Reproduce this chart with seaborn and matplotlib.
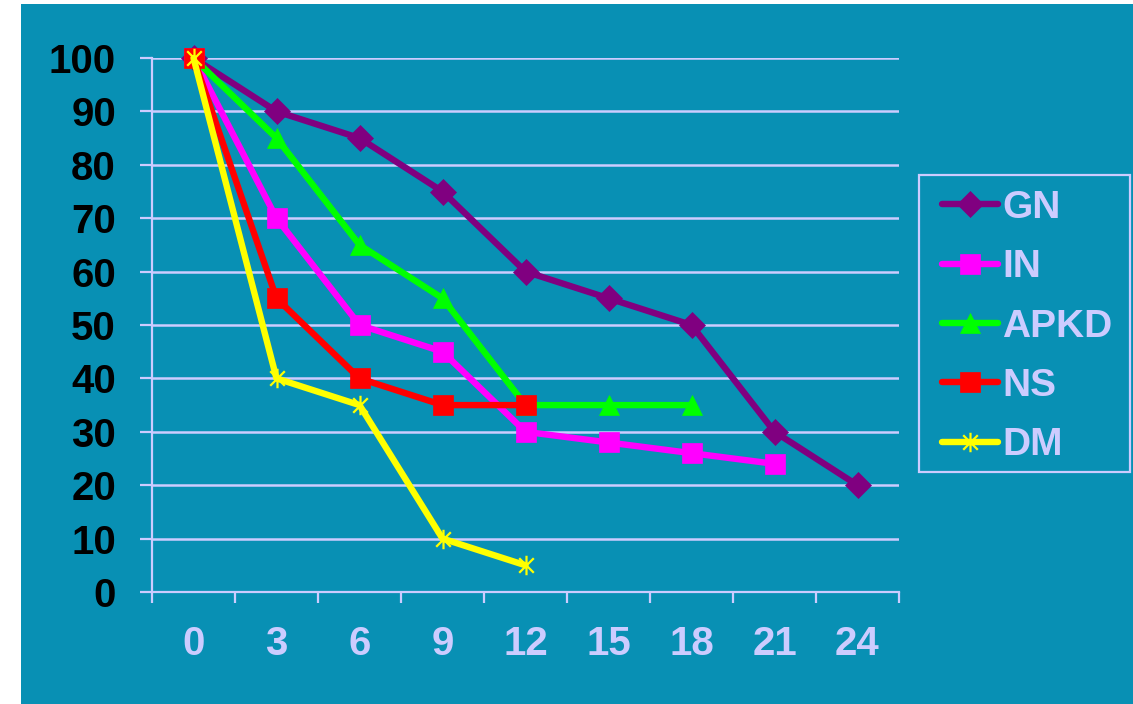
import numpy as np
import pandas as pd
import matplotlib
matplotlib.use("Agg")
import matplotlib.pyplot as plt
from matplotlib.path import Path
from matplotlib.patches import Rectangle
import seaborn as sns

# Months after start and the share (%) remaining for each group
months = ["0", "3", "6", "9", "12", "15", "18", "21", "24"]
gn = [100, 90, 85, 75, 60, 55, 50, 30, 20]
in_ = [100, 70, 50, 45, 30, 28, 26, 24]
apkd = [100, 85, 65, 55, 35, 35, 35]
ns = [100, 55, 40, 35, 35]
dm = [100, 40, 35, 10, 5]

series_names = ["GN", "IN", "APKD", "NS", "DM"]
series_values = [gn, in_, apkd, ns, dm]
colors = ["#800080", "#FF00FF", "#00FF00", "#FF0000", "#FFFF00"]

# Asterisk marker: vertical stroke plus an X
ast_verts = [(0, -1), (0, 1), (-0.75, -0.75), (0.75, 0.75), (-0.75, 0.75), (0.75, -0.75)]
ast_codes = [Path.MOVETO, Path.LINETO] * 3
asterisk = Path(ast_verts, ast_codes)

marker_styles = {
    "GN": dict(marker="D", markersize=13),
    "IN": dict(marker="s", markersize=14),
    "APKD": dict(marker="^", markersize=15),
    "NS": dict(marker="s", markersize=14),
    "DM": dict(marker=asterisk, markersize=14),
}

bg = "#0890B4"
lav = "#CCCCFF"

sns.set_theme(style="white")
plt.rcParams["font.family"] = ["Liberation Sans", "DejaVu Sans"]
plt.rcParams["font.weight"] = "bold"

W, H = 1133, 704
fig = plt.figure(figsize=(W / 100, H / 100), dpi=100, facecolor="white")
fig.patches.append(Rectangle((21 / W, 0), 1 - 21 / W, 1 - 4 / H,
                             transform=fig.transFigure, facecolor=bg,
                             edgecolor="none", zorder=-10))

ax = fig.add_axes([152 / W, (H - 592) / H, (899 - 152) / W, (592 - 58) / H])
ax.set_facecolor(bg)
ax.patch.set_alpha(0)

for name, vals, col in zip(series_names, series_values, colors):
    df = pd.DataFrame({"x": np.arange(len(vals)), "y": vals})
    st = marker_styles[name]
    is_ast = name == "DM"
    sns.lineplot(data=df, x="x", y="y", ax=ax, color=col, lw=4.6,
                 marker=st["marker"], markersize=st["markersize"],
                 markeredgecolor=col,
                 markeredgewidth=1.6 if is_ast else 0.5,
                 markerfacecolor=col, label=name, clip_on=False, zorder=3,
                 solid_capstyle="round", solid_joinstyle="round")

ax.set_xlim(-0.5, len(months) - 0.5)
ax.set_ylim(0, 100)
ax.set_xlabel("")
ax.set_ylabel("")

# Category labels at centers, tick marks at category boundaries
ax.set_xticks(np.arange(len(months)))
ax.set_xticklabels(months)
ax.set_xticks(np.arange(len(months) + 1) - 0.5, minor=True)
ax.tick_params(axis="x", which="major", length=0, pad=24, labelsize=29,
               labelcolor=lav)
ax.tick_params(axis="x", which="minor", length=8, width=1.6, color=lav,
               direction="out", bottom=True)

ax.set_yticks(np.arange(0, 101, 10))
ax.tick_params(axis="y", which="major", length=9, width=1.6, color=lav,
               direction="out", left=True, pad=17, labelsize=29,
               labelcolor="black")
for lbl in ax.get_xticklabels() + ax.get_yticklabels():
    lbl.set_fontweight("bold")

ax.grid(axis="y", color=lav, lw=1.8)
ax.grid(axis="x", visible=False)
ax.set_axisbelow(True)
for side in ["top", "right"]:
    ax.spines[side].set_visible(False)
for side in ["left", "bottom"]:
    ax.spines[side].set_color(lav)
    ax.spines[side].set_linewidth(1.6)

# Legend box
fig.patches.append(Rectangle((919 / W, 1 - 472 / H), (1130 - 919) / W,
                             (472 - 175) / H, transform=fig.transFigure,
                             facecolor="none", edgecolor=lav, lw=1.6,
                             zorder=5))
leg = ax.legend(loc="upper left", bbox_to_anchor=(942 / W, 1 - 190 / H),
                bbox_transform=fig.transFigure, frameon=False,
                prop={"size": 28, "weight": "bold"}, labelcolor=lav,
                handlelength=1.44, handletextpad=0.1, labelspacing=0.6,
                borderpad=0, borderaxespad=0, markerscale=1.0)

fig.savefig("out.png", dpi=100, facecolor=fig.get_facecolor())
